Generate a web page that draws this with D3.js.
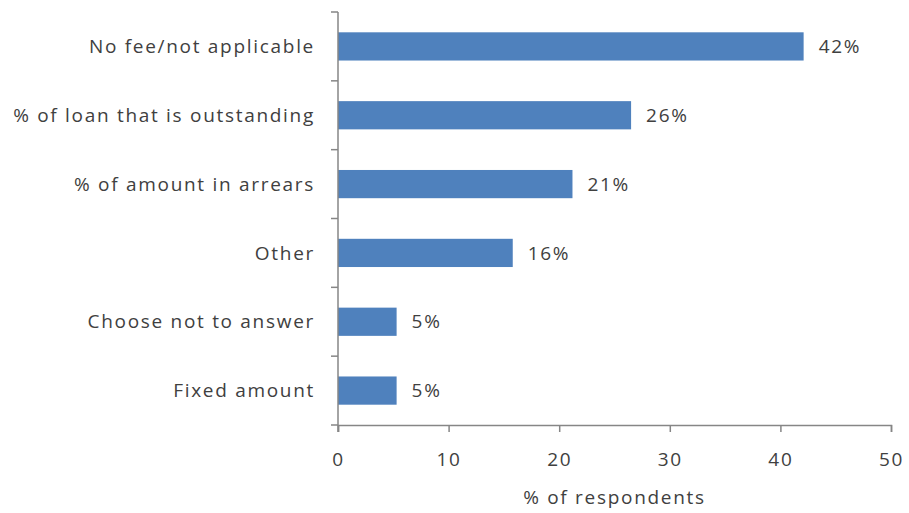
<!DOCTYPE html>
<html>
<head>
<meta charset="utf-8">
<script src="https://cdn.jsdelivr.net/npm/d3@7"></script>
<style>
  body { margin: 0; background: #fff; }
  svg { display: block; }
</style>
</head>
<body>
<svg id="chart" width="909" height="513"></svg>
<script>
const categories = ["No fee/not applicable", "% of loan that is outstanding", "% of amount in arrears", "Other", "Choose not to answer", "Fixed amount"];
const values = [42.1, 26.5, 21.2, 15.8, 5.3, 5.3];
const valueLabels = ["42%", "26%", "21%", "16%", "5%", "5%"];
const xTicks = [0, 10, 20, 30, 40, 50];
const xTitle = "% of respondents";

(function () {
const svg = d3.select("#chart");
const mLeft = 338, mRight = 891, mTop = 12, mBottom = 425;
const font = "'Open Sans', 'DejaVu Sans', sans-serif";
const fs = 19, ls = "1.7px";
const axisColor = "#868686";
const textColor = "#404040";

const x = d3.scaleLinear().domain([0, 50]).range([mLeft, mRight]);
const y = d3.scaleBand().domain(categories).range([mTop, mBottom]).paddingInner(0.59).paddingOuter(0.295);

// bars
svg.selectAll("rect.bar").data(categories).enter().append("rect")
  .attr("class", "bar")
  .attr("x", x(0))
  .attr("y", d => y(d))
  .attr("width", (d, i) => x(values[i]) - x(0))
  .attr("height", y.bandwidth())
  .attr("fill", "#4F81BD");

// value labels
svg.selectAll("text.val").data(categories).enter().append("text")
  .attr("class", "val")
  .attr("x", (d, i) => x(values[i]) + 15)
  .attr("y", d => y(d) + y.bandwidth() / 2)
  .attr("dy", "0.35em")
  .attr("font-family", font)
  .attr("font-size", fs)
  .attr("letter-spacing", ls)
  .attr("fill", textColor)
  .text((d, i) => valueLabels[i]);

// x axis
const xAxis = d3.axisBottom(x).tickValues(xTicks).tickSize(7).tickSizeOuter(7).tickPadding(21);
const gx = svg.append("g").attr("transform", `translate(0,${mBottom})`).call(xAxis);
gx.select(".domain").attr("stroke", axisColor).attr("stroke-width", 1.5);
gx.selectAll(".tick line").attr("stroke", axisColor).attr("stroke-width", 1.5);
gx.selectAll(".tick text").attr("font-family", font).attr("font-size", fs)
  .attr("letter-spacing", ls).attr("fill", textColor);

// y axis: line with ticks at band boundaries
const gy = svg.append("g");
gy.append("line").attr("x1", mLeft).attr("x2", mLeft).attr("y1", mTop).attr("y2", mBottom + 7)
  .attr("stroke", axisColor).attr("stroke-width", 1.5);
const boundaries = d3.range(categories.length + 1).map(i => mTop + i * (mBottom - mTop) / categories.length);
gy.selectAll("line.yt").data(boundaries).enter().append("line")
  .attr("class", "yt")
  .attr("x1", mLeft - 7).attr("x2", mLeft)
  .attr("y1", d => d).attr("y2", d => d)
  .attr("stroke", axisColor).attr("stroke-width", 1.5);

// category labels
svg.selectAll("text.cat").data(categories).enter().append("text")
  .attr("class", "cat")
  .attr("x", 315)
  .attr("y", d => y(d) + y.bandwidth() / 2)
  .attr("dy", "0.35em")
  .attr("text-anchor", "end")
  .attr("font-family", font)
  .attr("font-size", fs)
  .attr("letter-spacing", ls)
  .attr("fill", textColor)
  .text(d => d);

// x title
svg.append("text")
  .attr("x", (mLeft + mRight) / 2)
  .attr("y", 504)
  .attr("text-anchor", "middle")
  .attr("font-family", font)
  .attr("font-size", fs)
  .attr("letter-spacing", ls)
  .attr("fill", textColor)
  .text(xTitle);
})();
</script>
</body>
</html>
